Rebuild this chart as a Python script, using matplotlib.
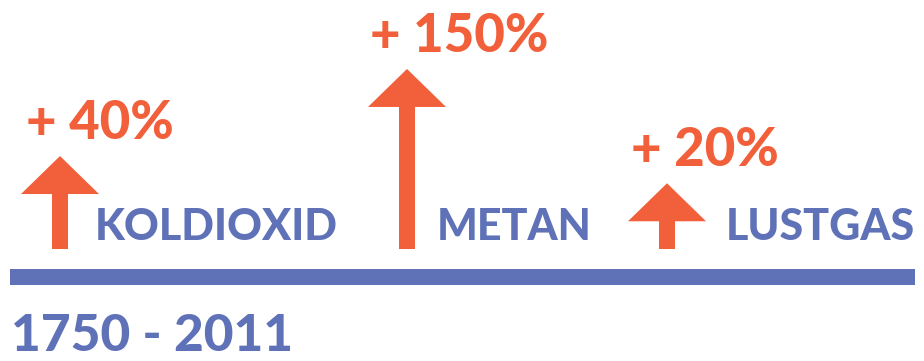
import numpy as np
import matplotlib.pyplot as plt
from matplotlib.patches import Polygon, Rectangle

# ökning av växthusgaser 1750 - 2011
gaser = ["KOLDIOXID", "METAN", "LUSTGAS"]
okning = [40, 150, 20]  # procent
period = "1750 - 2011"

ORANGE = "#F2603B"
BLA = "#5F72B8"
FONT = "Lato"
VIKT = "black"

W, H = 924, 361
fig = plt.figure(figsize=(W / 100, H / 100), dpi=100)
ax = fig.add_axes([0, 0, 1, 1])
ax.set_xlim(0, W)
ax.set_ylim(H, 0)
ax.axis("off")

# layout (pixlar)
pil_x = [60, 407, 667]
pct_x = [26, 370, 631]
namn_x = [95, 437, 726]
bas_y = 249
skala = 14.7  # pilhöjd ~ sqrt(procent)
huvud_h, huvud_b, skaft_b = 38, 78, 16

for x, p, px, nx, namn in zip(pil_x, okning, pct_x, namn_x, gaser):
    topp = bas_y - skala * np.sqrt(p)
    ax.add_patch(Rectangle((x - skaft_b / 2, topp + huvud_h - 1), skaft_b,
                           bas_y - topp - huvud_h + 1, color=ORANGE, lw=0))
    ax.add_patch(Polygon([(x - huvud_b / 2, topp + huvud_h), (x, topp),
                          (x + huvud_b / 2, topp + huvud_h)], color=ORANGE, lw=0))
    ax.text(px, topp - 17, f"+ {p}%", color=ORANGE, fontsize=38,
            fontweight=VIKT, family=FONT, ha="left", va="baseline")
    ax.text(nx, 240, namn, color=BLA, fontsize=31, fontweight=VIKT,
            family=FONT, ha="left", va="baseline")

ax.add_patch(Rectangle((10, 269), 905, 16, color=BLA, lw=0))
ax.text(11, 351, period, color=BLA, fontsize=37, fontweight=VIKT,
        family=FONT, ha="left", va="baseline")

fig.savefig("out.png", dpi=100, facecolor="white")
